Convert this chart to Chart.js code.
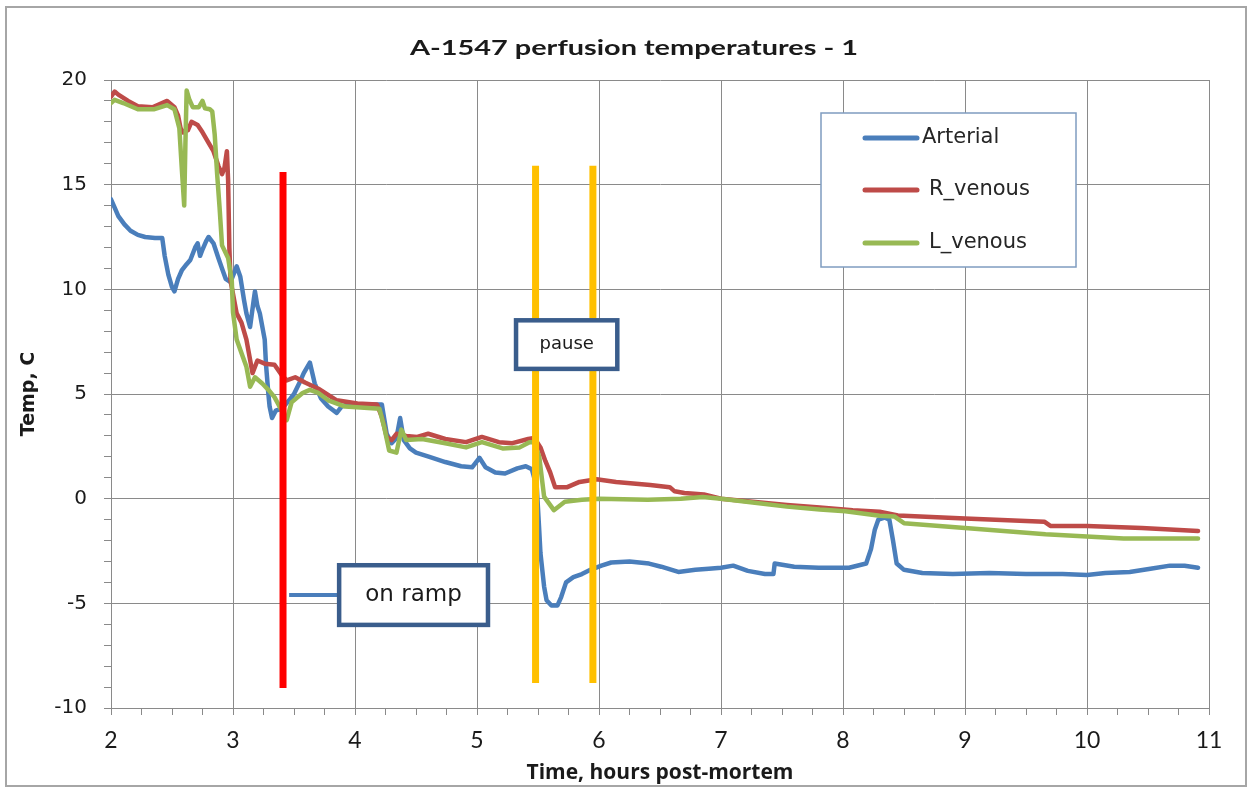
<!DOCTYPE html>
<html>
<head>
<meta charset="utf-8">
<script src="https://cdn.jsdelivr.net/npm/chart.js@4.4.0/dist/chart.umd.min.js"></script>
<style>
html,body{margin:0;padding:0;background:#fff;}
#wrap{width:1252px;height:789px;position:relative;}
</style>
</head>
<body>
<div id="wrap"><canvas id="c" width="1252" height="789"></canvas></div>
<script>
// ---------------- data ----------------
const chartTitle = 'A-1547 perfusion temperatures - 1';
const xAxisTitle = 'Time, hours post-mortem';
const yAxisTitle = 'Temp, C';
const seriesNames = ['Arterial', 'R_venous', 'L_venous'];

const xMajorTicks = [2, 3, 4, 5, 6, 7, 8, 9, 10, 11];
const yMajorTicks = [-10, -5, 0, 5, 10, 15, 20];

const arterialT = [2.00,2.03,2.06,2.11,2.16,2.22,2.28,2.36,2.42,2.44,2.47,2.50,2.52,2.55,2.58,2.62,2.65,2.69,2.71,2.73,2.75,2.78,2.80,2.84,2.88,2.91,2.94,2.98,3.01,3.03,3.06,3.09,3.11,3.14,3.17,3.18,3.20,3.22,3.26,3.27,3.29,3.30,3.32,3.35,3.40,3.46,3.50,3.55,3.58,3.63,3.67,3.72,3.78,3.85,3.89,3.94,4.00,4.10,4.22,4.26,4.30,4.34,4.37,4.40,4.45,4.50,4.61,4.74,4.87,4.96,5.02,5.07,5.15,5.23,5.33,5.40,5.45,5.49,5.51,5.52,5.55,5.57,5.61,5.66,5.69,5.73,5.79,5.86,5.93,6.02,6.10,6.25,6.41,6.51,6.65,6.79,6.90,7.00,7.10,7.22,7.36,7.43,7.44,7.60,7.80,8.05,8.19,8.23,8.26,8.29,8.34,8.38,8.41,8.44,8.50,8.65,8.90,9.20,9.50,9.80,10.00,10.15,10.35,10.52,10.68,10.80,10.91];
const arterialC = [14.3,13.9,13.5,13.1,12.8,12.6,12.5,12.45,12.45,11.6,10.7,10.1,9.9,10.5,10.9,11.2,11.4,12.0,12.2,11.6,11.9,12.3,12.5,12.2,11.5,11.0,10.5,10.35,10.8,11.1,10.6,9.5,8.85,8.2,9.5,9.9,9.2,8.85,7.6,6.45,5.0,4.4,3.85,4.2,4.3,4.7,5.0,5.6,6.0,6.5,5.5,4.8,4.4,4.1,4.4,4.5,4.5,4.5,4.5,3.1,2.65,2.9,3.85,2.8,2.4,2.2,2.0,1.75,1.55,1.5,1.95,1.5,1.25,1.2,1.45,1.55,1.4,0.55,-1.5,-2.6,-4.2,-4.85,-5.1,-5.1,-4.7,-4.0,-3.75,-3.6,-3.4,-3.2,-3.05,-3.0,-3.1,-3.25,-3.5,-3.4,-3.35,-3.3,-3.2,-3.45,-3.6,-3.6,-3.1,-3.25,-3.3,-3.3,-3.1,-2.4,-1.5,-1.0,-0.9,-1.0,-2.0,-3.1,-3.4,-3.55,-3.6,-3.55,-3.6,-3.6,-3.65,-3.55,-3.5,-3.35,-3.2,-3.2,-3.3];

const rVenousT = [2.00,2.03,2.06,2.14,2.22,2.34,2.46,2.52,2.55,2.57,2.59,2.63,2.66,2.71,2.75,2.80,2.84,2.88,2.91,2.93,2.95,2.96,2.97,2.98,3.03,3.07,3.11,3.16,3.20,3.26,3.34,3.40,3.44,3.51,3.59,3.70,3.85,4.02,4.18,4.22,4.26,4.30,4.34,4.42,4.51,4.60,4.74,4.91,5.04,5.18,5.29,5.42,5.47,5.52,5.56,5.60,5.64,5.74,5.84,5.98,6.14,6.42,6.58,6.62,6.70,6.86,7.00,7.26,7.54,7.81,8.08,8.30,8.45,9.00,9.65,9.70,10.00,10.45,10.91];
const rVenousC = [19.2,19.45,19.3,19.0,18.75,18.7,19.0,18.7,18.3,17.7,17.5,17.6,18.0,17.85,17.5,17.0,16.6,15.9,15.5,15.8,16.6,15.2,12.0,10.4,8.85,8.4,7.6,6.0,6.6,6.45,6.4,5.9,5.65,5.8,5.55,5.25,4.7,4.55,4.5,3.9,2.95,2.8,3.1,3.0,2.95,3.1,2.85,2.7,2.95,2.7,2.65,2.85,2.9,2.45,1.8,1.25,0.55,0.55,0.8,0.93,0.8,0.65,0.55,0.35,0.27,0.2,0.0,-0.15,-0.3,-0.42,-0.55,-0.62,-0.8,-0.95,-1.1,-1.3,-1.3,-1.4,-1.55];

const lVenousT = [2.00,2.03,2.10,2.22,2.35,2.46,2.52,2.56,2.58,2.60,2.61,2.62,2.64,2.67,2.72,2.75,2.77,2.81,2.83,2.85,2.87,2.89,2.91,2.96,2.99,3.00,3.03,3.07,3.11,3.14,3.18,3.24,3.29,3.34,3.40,3.44,3.48,3.57,3.63,3.70,3.78,3.92,4.20,4.24,4.28,4.34,4.38,4.42,4.55,4.74,4.91,5.04,5.21,5.35,5.43,5.47,5.51,5.55,5.63,5.72,5.86,6.00,6.40,6.67,6.85,7.00,7.26,7.54,7.81,8.02,8.30,8.42,8.50,9.00,9.66,10.30,10.91];
const lVenousC = [18.9,19.05,18.9,18.6,18.6,18.8,18.6,17.7,15.8,14.0,17.0,19.5,19.1,18.7,18.7,19.0,18.65,18.6,18.5,17.4,15.5,13.9,12.1,11.5,10.4,8.9,7.6,6.95,6.3,5.35,5.8,5.5,5.2,4.85,4.2,3.75,4.6,5.05,5.2,5.05,4.7,4.4,4.3,3.4,2.3,2.2,3.3,2.8,2.85,2.65,2.45,2.7,2.4,2.45,2.7,2.7,2.0,0.1,-0.55,-0.15,-0.05,0.0,-0.05,0.0,0.08,0.0,-0.18,-0.38,-0.52,-0.6,-0.82,-0.85,-1.17,-1.4,-1.7,-1.9,-1.9];

// vertical marker lines (time, temperature end points)
const rampT = [3.41, 3.41];   const rampC = [15.6, -9.05];
const pauseAT = [5.48, 5.48]; const pauseAC = [15.9, -8.8];
const pauseBT = [5.95, 5.95]; const pauseBC = [15.9, -8.8];

// text-box annotations
const annotationTexts = ['pause', 'on ramp'];

// ---------------- helpers ----------------
const pts = (t, c) => t.map((v, i) => ({x: v, y: c[i]}));
const GRID = '#8a8a8a';
const colors = ['#4A7EBB', '#BE4B48', '#98B954'];

const seriesDS = (i, t, c) => ({
  label: seriesNames[i], data: pts(t, c), borderColor: colors[i], backgroundColor: colors[i],
  borderWidth: 4.5, pointRadius: 0, tension: 0, borderJoinStyle: 'round', borderCapStyle: 'round',
  order: 3 - i, showLine: true, isSeries: true
});
const markerDS = (t, c, col) => ({
  label: '', data: pts(t, c), borderColor: col, backgroundColor: col, borderWidth: 7,
  pointRadius: 0, tension: 0, borderCapStyle: 'butt', order: 0, showLine: true, isSeries: false
});

const framePlugin = {
  id: 'frame',
  beforeDraw(chart) {
    const ctx = chart.ctx;
    ctx.save();
    ctx.fillStyle = '#fff';
    ctx.fillRect(0, 0, chart.width, chart.height);
    ctx.strokeStyle = '#a6a6a6';
    ctx.lineWidth = 2;
    ctx.strokeRect(6, 7, 1240, 779);
    ctx.restore();
  },
  afterDraw(chart) {
    const ctx = chart.ctx;
    // title (stretched like the reference)
    ctx.save();
    ctx.font = 'bold 21px Lato';
    const w = ctx.measureText(chartTitle).width;
    ctx.translate(634, 48);
    ctx.scale(448 / w, 1);
    ctx.fillStyle = '#1a1a1a';
    ctx.textAlign = 'center';
    ctx.textBaseline = 'middle';
    ctx.fillText(chartTitle, 0, 0);
    ctx.restore();

    // legend box
    ctx.save();
    ctx.fillStyle = '#fff';
    ctx.fillRect(821, 113, 255, 154);
    ctx.strokeStyle = '#7f9cc0';
    ctx.lineWidth = 1.5;
    ctx.strokeRect(821, 113, 255, 154);
    const rowsY = [138, 190, 243];
    const textX = [922, 929, 929];
    const ds = chart.data.datasets.filter(d => d.isSeries);
    ds.forEach((d, i) => {
      ctx.strokeStyle = d.borderColor;
      ctx.lineWidth = 5;
      ctx.lineCap = 'round';
      ctx.beginPath();
      ctx.moveTo(865, rowsY[i]);
      ctx.lineTo(917, rowsY[i]);
      ctx.stroke();
      ctx.fillStyle = '#262626';
      ctx.font = '21px "DejaVu Sans"';
      ctx.textAlign = 'left';
      ctx.textBaseline = 'middle';
      ctx.fillText(d.label, textX[i], rowsY[i]);
    });
    ctx.restore();
  },
  afterDatasetsDraw(chart) {
    const ctx = chart.ctx;
    const xs = chart.scales.x, ys = chart.scales.y;
    const X = v => xs.getPixelForValue(v), Y = v => ys.getPixelForValue(v);
    ctx.save();
    // callout connector for "on ramp"
    ctx.strokeStyle = colors[0];
    ctx.lineWidth = 4;
    ctx.beginPath();
    ctx.moveTo(X(3.46), Y(-4.6));
    ctx.lineTo(X(3.87), Y(-4.6));
    ctx.stroke();
    const box = (x0, y0, x1, y1, text, font) => {
      const l = X(x0), t = Y(y0), r = X(x1), b = Y(y1);
      ctx.fillStyle = '#fff';
      ctx.fillRect(l, t, r - l, b - t);
      ctx.strokeStyle = '#3a5d8c';
      ctx.lineWidth = 4.5;
      ctx.strokeRect(l, t, r - l, b - t);
      ctx.fillStyle = '#1a1a1a';
      ctx.font = font;
      ctx.textAlign = 'center';
      ctx.textBaseline = 'middle';
      ctx.fillText(text, (l + r) / 2, (t + b) / 2);
    };
    box(5.32, 8.52, 6.15, 6.2, annotationTexts[0], '18px "DejaVu Sans"');
    box(3.87, -3.18, 5.09, -6.03, annotationTexts[1], '23px "DejaVu Sans"');
    ctx.restore();
  }
};

new Chart(document.getElementById('c'), {
  type: 'scatter',
  data: {
    datasets: [
      seriesDS(0, arterialT, arterialC),
      seriesDS(1, rVenousT, rVenousC),
      seriesDS(2, lVenousT, lVenousC),
      markerDS(rampT, rampC, '#FF0000'),
      markerDS(pauseAT, pauseAC, '#FFC000'),
      markerDS(pauseBT, pauseBC, '#FFC000')
    ]
  },
  options: {
    responsive: false,
    animation: false,
    devicePixelRatio: 1,
    layout: {padding: {top: 80, right: 43, left: 0, bottom: 0}},
    plugins: {legend: {display: false}, title: {display: false}, tooltip: {enabled: false}},
    scales: {
      x: {
        type: 'linear', min: 2, max: 11,
        afterFit: s => { s.height = 81; },
        ticks: {
          stepSize: 0.25, autoSkip: false, maxRotation: 0, padding: 12,
          color: '#1a1a1a', font: {family: 'Lato', size: 23},
          callback: v => xMajorTicks.includes(v) ? String(v) : ''
        },
        grid: {
          color: c => (c.tick && xMajorTicks.includes(c.tick.value)) ? GRID : 'rgba(0,0,0,0)',
          tickColor: GRID, tickLength: 7, lineWidth: 1
        },
        border: {color: GRID, width: 1},
        title: {display: true, text: xAxisTitle, color: '#1a1a1a',
                font: {family: 'Open Sans', size: 21, weight: 'bold'}, padding: {top: 0, bottom: 3}}
      },
      y: {
        type: 'linear', min: -10, max: 20,
        afterFit: s => { s.width = 111; },
        ticks: {
          stepSize: 1, autoSkip: false, padding: 17,
          color: '#1a1a1a', font: {family: 'DejaVu Sans', size: 20},
          callback: v => yMajorTicks.includes(v) ? String(v) : ''
        },
        grid: {
          color: c => (c.tick && yMajorTicks.includes(c.tick.value)) ? GRID : 'rgba(0,0,0,0)',
          tickColor: GRID, tickLength: 7, lineWidth: 1
        },
        border: {color: GRID, width: 1},
        title: {display: true, text: yAxisTitle, color: '#1a1a1a',
                font: {family: 'DejaVu Sans', size: 19, weight: 'bold'}, padding: {top: 18, bottom: 0}}
      }
    }
  },
  plugins: [framePlugin]
});
</script>
</body>
</html>
